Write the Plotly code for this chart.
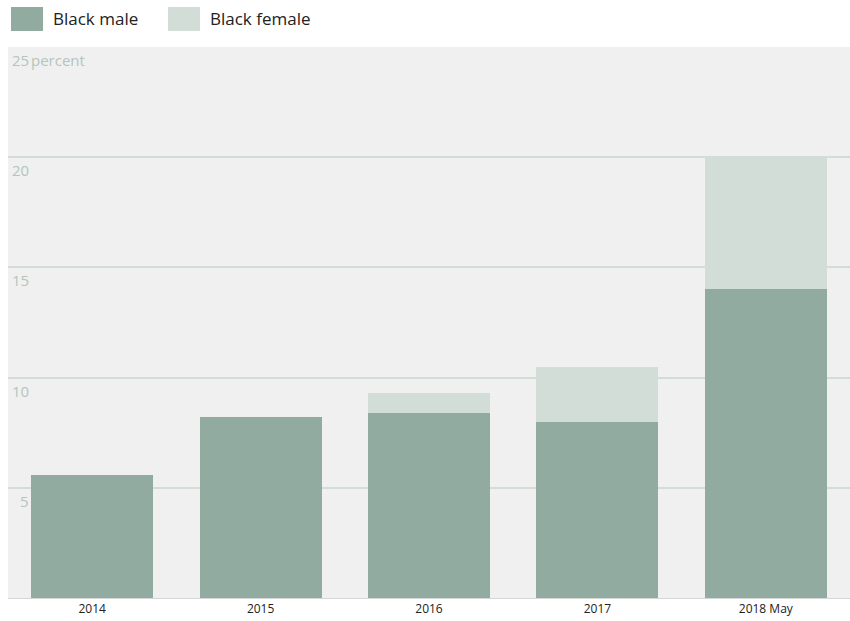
import plotly.graph_objects as go

categories = ["2014", "2015", "2016", "2017", "2018 May"]
black_male = [5.6, 8.2, 8.4, 8.0, 14.0]
black_female = [0.0, 0.0, 0.9, 2.5, 6.0]
y_tickvals = [5, 10, 15, 20, 25]
y_ticktext = ["5", "10", "15", "20", "25"]
y_unit = "percent"
series_names = ["Black male", "Black female"]
colors = ["#92aba0", "#d3ddd8"]

PL, PR, PT, PB = 8, 0, 47, 23
W, H = 850, 621
PW, PH = W - PL - PR, H - PT - PB

fig = go.Figure()
fig.add_trace(go.Bar(x=categories, y=black_male, name=series_names[0],
                     marker=dict(color=colors[0], line=dict(width=0))))
fig.add_trace(go.Bar(x=categories, y=black_female, name=series_names[1],
                     marker=dict(color=colors[1], line=dict(width=0))))

# custom legend (large swatches)
legend_x = [11, 168]
for i, name in enumerate(series_names):
    x0 = legend_x[i]
    fig.add_shape(type="rect", xref="paper", yref="paper",
                  x0=(x0 - PL) / PW, x1=(x0 + 32 - PL) / PW,
                  y0=(H - PB - 31) / PH, y1=(H - PB - 7) / PH,
                  fillcolor=colors[i], line=dict(width=0))
    fig.add_annotation(xref="paper", yref="paper", x=(x0 + 40 - PL) / PW,
                       y=(H - PB - 19) / PH, text=name, showarrow=False,
                       xanchor="left", yanchor="middle",
                       font=dict(size=17, color="#222222", family="Open Sans"))

# y tick labels inside plot, right-aligned, just below gridlines
label_color = "#b2c6bc"
for v, t in zip(y_tickvals, y_ticktext):
    fig.add_annotation(xref="paper", yref="y", x=(31 - PL) / PW, y=v,
                       text=t, showarrow=False, xanchor="right", yanchor="top",
                       yshift=-1,
                       font=dict(size=15, color=label_color, family="Open Sans"))
fig.add_annotation(xref="paper", yref="y", x=(29 - PL) / PW, y=y_tickvals[-1],
                   text=y_unit, showarrow=False, xanchor="left", yanchor="top",
                   yshift=-1,
                   font=dict(size=15, color=label_color, family="Open Sans"))

fig.update_layout(
    barmode="stack",
    bargap=0.276,
    width=W, height=H,
    margin=dict(l=PL, r=PR, t=PT, b=PB),
    paper_bgcolor="white",
    plot_bgcolor="#f0f0f0",
    showlegend=False,
    font=dict(family="Open Sans", color="#333333"),
    xaxis=dict(showgrid=False, showline=True, linecolor="#d3d8d6", linewidth=1,
               range=[-0.5, 4.5],
               ticks="", tickfont=dict(size=12, color="#222222")),
    yaxis=dict(range=[0, 25], tickvals=y_tickvals, showticklabels=False,
               showgrid=True, gridcolor="#d3ddd8", gridwidth=1.5,
               zeroline=False, layer="below traces"),
)

fig.write_html("out.html")
